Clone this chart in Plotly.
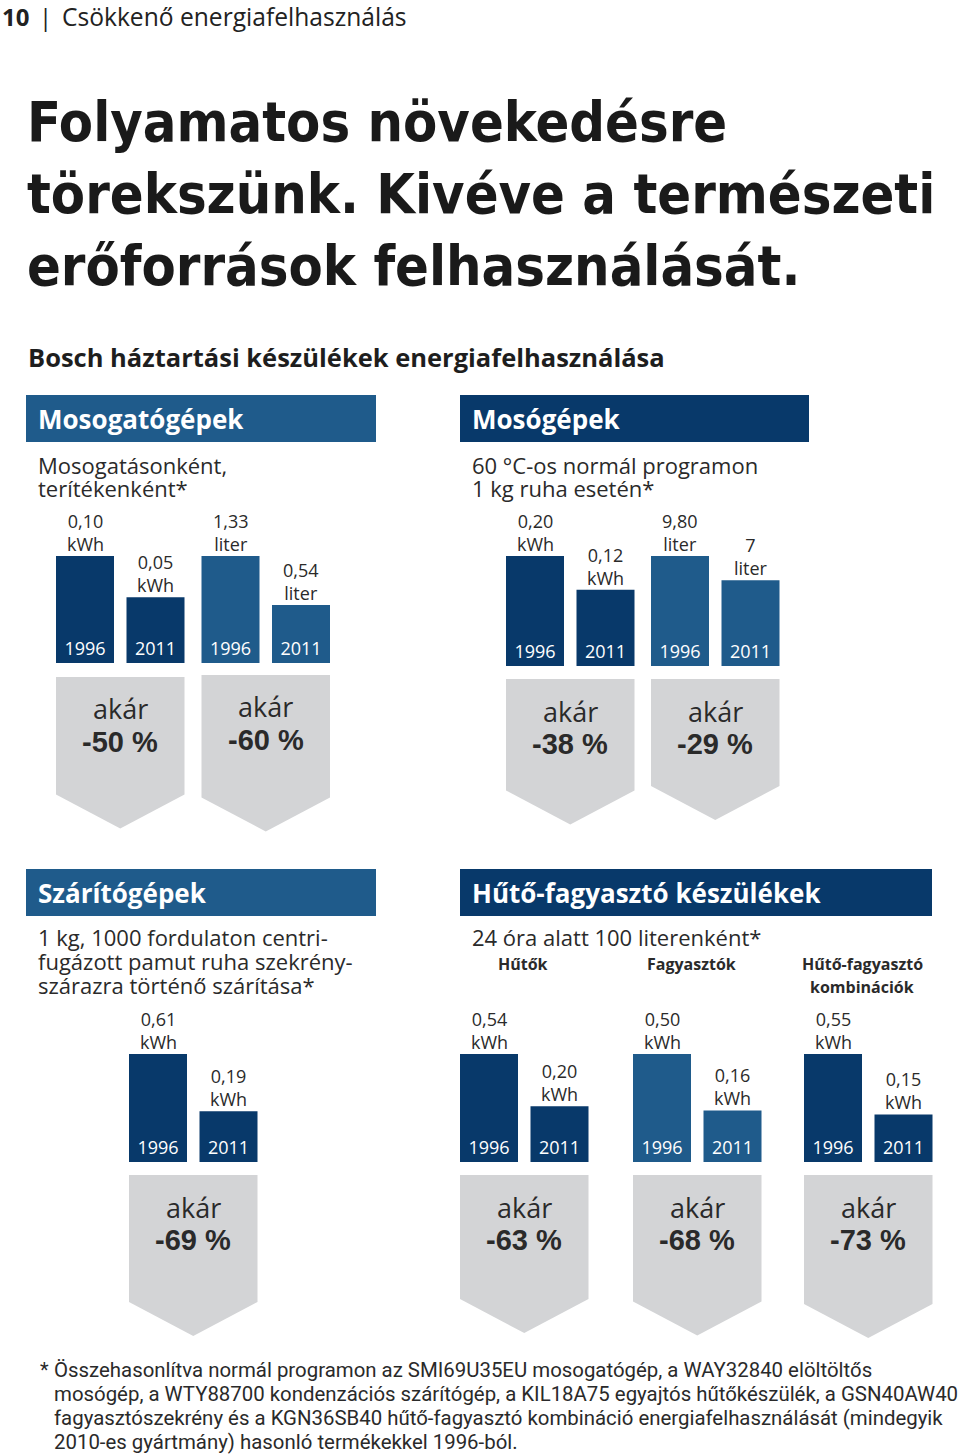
import plotly.graph_objects as go

W, H = 960, 1454


def fx(x):
    return x / W


def fy(y):
    return 1 - y / H


# ---------------- data ----------------
YEARS = ["1996", "2011"]
mosogato_kwh = [0.10, 0.05]
mosogato_liter = [1.33, 0.54]
moso_kwh = [0.20, 0.12]
moso_liter = [9.80, 7]
szarito_kwh = [0.61, 0.19]
huto_kwh = [0.54, 0.20]
fagyaszto_kwh = [0.50, 0.16]
kombi_kwh = [0.55, 0.15]
reductions = [50, 60, 38, 29, 69, 63, 68, 73]

DARK = "#08396a"
MID = "#1f5b8b"
GRAY = "#d3d4d6"
TXT = "#2a2a2a"
BODY = "Open Sans, Noto Sans, sans-serif"
COND = "Roboto, sans-serif"

# layout of each bar pair: values, unit, colour, centre of first bar, top px, bottom px
pairs = [
    (mosogato_kwh, "kWh", DARK, 85, 556, 663),
    (mosogato_liter, "liter", MID, 230.5, 556, 663),
    (moso_kwh, "kWh", DARK, 535, 556, 666),
    (moso_liter, "liter", MID, 680, 556, 666),
    (szarito_kwh, "kWh", DARK, 158, 1054, 1162),
    (huto_kwh, "kWh", DARK, 489, 1054, 1162),
    (fagyaszto_kwh, "kWh", MID, 662, 1054, 1162),
    (kombi_kwh, "kWh", DARK, 833, 1054, 1162),
]
arrow_tops = [677, 675, 679, 679, 1175, 1175, 1175, 1175]

SLOT = 70.5
BARW = 58
STRIP = 0.3  # room under zero for the year label


def fmt(v):
    if float(v).is_integer() and v >= 1:
        return str(int(v))
    return f"{v:.2f}".replace(".", ",")


fig = go.Figure()
annotations = []
shapes = []


def text(x, y, s, size, color=TXT, family=BODY, weight=None, xanchor="left", yanchor="middle", align="left"):
    font = dict(size=size, color=color, family=family)
    if weight:
        font["weight"] = weight
    if xanchor == "left":
        x = x - 2
    annotations.append(dict(x=fx(x), y=fy(y), xref="paper", yref="paper", text=s, showarrow=False,
                            xanchor=xanchor, yanchor=yanchor, align=align, font=font))


for i, (vals, unit, col, c1, top, bot) in enumerate(pairs, start=1):
    xa = "x" if i == 1 else f"x{i}"
    ya = "y" if i == 1 else f"y{i}"
    lo = -STRIP * vals[0]
    fig.add_trace(go.Bar(
        x=YEARS, y=[v - lo for v in vals], base=lo, xaxis=xa, yaxis=ya,
        marker=dict(color=col, line=dict(width=0)),
        text=YEARS, textposition="inside", insidetextanchor="start",
        textfont=dict(color="white", size=18, family=BODY), constraintext="none",
        hoverinfo="skip", showlegend=False, cliponaxis=False,
    ))
    left = c1 - SLOT / 2
    right = c1 + SLOT * 1.5
    axkey = "xaxis" if i == 1 else f"xaxis{i}"
    aykey = "yaxis" if i == 1 else f"yaxis{i}"
    fig.update_layout({
        axkey: dict(domain=[fx(left), fx(right)], anchor=ya, type="category", range=[-0.5, 1.5],
                    visible=False, fixedrange=True),
        aykey: dict(domain=[fy(bot), fy(top)], anchor=xa, range=[lo, vals[0]], visible=False, fixedrange=True),
    })
    for k, v in enumerate(vals):
        annotations.append(dict(x=k, y=v, xref=xa, yref=ya, text=f"{fmt(v)}<br>{unit}", showarrow=False,
                                xanchor="center", yanchor="bottom", yshift=-2, align="center",
                                font=dict(size=18, color=TXT, family=BODY)))
    # reduction arrow under the pair
    pct = reductions[i - 1]
    at = arrow_tops[i - 1]
    al, ar = c1 - BARW / 2, c1 + SLOT + BARW / 2
    length = 126.5 + 0.5 * pct
    tip = at + length
    sh = tip - 34
    path = (f"M {fx(al)} {fy(at)} L {fx(ar)} {fy(at)} L {fx(ar)} {fy(sh)} "
            f"L {fx((al + ar) / 2)} {fy(tip)} L {fx(al)} {fy(sh)} Z")
    shapes.append(dict(type="path", xref="paper", yref="paper", path=path, fillcolor=GRAY,
                       line=dict(width=0), layer="below"))
    text((al + ar) / 2, at + 32, "akár", 27, xanchor="center")
    text((al + ar) / 2, at + 65, f"-{pct} %", 29, family="Liberation Sans, Arial, sans-serif",
         weight="bold", xanchor="center")

# ---------------- section headers ----------------
headers = [
    ("Mosogatógépek", 26, 376, 395, 442, MID),
    ("Mosógépek", 460, 809, 395, 442, DARK),
    ("Szárítógépek", 26, 376, 869, 916, MID),
    ("Hűtő-fagyasztó készülékek", 460, 932, 869, 916, DARK),
]
for label, x0, x1, y0, y1, col in headers:
    shapes.append(dict(type="rect", xref="paper", yref="paper", x0=fx(x0), x1=fx(x1), y0=fy(y1), y1=fy(y0),
                       fillcolor=col, line=dict(width=0), layer="below"))
    text(x0 + 12, (y0 + y1) / 2, label, 26, color="white", weight="bold")

# ---------------- texts ----------------
text(2, 17, "10", 24, color="#222", weight="bold")
text(45, 17, "|", 24, color="#222", xanchor="center")
text(62, 17, "Csökkenő energiafelhasználás", 24.6, color="#222")
title_lines = ["Folyamatos növekedésre", "törekszünk. Kivéve a természeti", "erőforrások felhasználását."]
for k, t in enumerate(title_lines):
    text(27, 122 + 71.5 * k, t, 55.5, color="#1a1a1a", family="Liberation Sans Narrow, DejaVu Sans Condensed, Roboto",
         weight=900)
text(28, 357, "Bosch háztartási készülékek energiafelhasználása", 25.5, color="#1e1e1e", family=BODY, weight="bold")

text(38, 465, "Mosogatásonként,", 22)
text(38, 488, "terítékenként*", 22)
text(472, 465, "60 °C-os normál programon", 22)
text(472, 488, "1 kg ruha esetén*", 22)
text(38, 937, "1 kg, 1000 fordulaton centri-", 22)
text(38, 961, "fugázott pamut ruha szekrény-", 22)
text(38, 985, "szárazra történő szárítása*", 22)
text(472, 937, "24 óra alatt 100 literenként*", 22)
text(523, 964, "Hűtők", 16, weight="bold", xanchor="center")
text(691, 964, "Fagyasztók", 16, weight="bold", xanchor="center")
text(862, 964, "Hűtő-fagyasztó", 16, weight="bold", xanchor="center")
text(862, 987, "kombinációk", 16, weight="bold", xanchor="center")

foot = [
    "Összehasonlítva normál programon az SMI69U35EU mosogatógép, a WAY32840 elöltöltős",
    "mosógép, a WTY88700 kondenzációs szárítógép, a KIL18A75 egyajtós hűtőkészülék, a GSN40AW40",
    "fagyasztószekrény és a KGN36SB40 hűtő-fagyasztó kombináció energiafelhasználását (mindegyik",
    "2010-es gyártmány) hasonló termékekkel 1996-ból.",
]
text(40, 1370, "*", 20, family=COND)
for k, t in enumerate(foot):
    text(54, 1370 + 24 * k, t, 20.4, family=COND)

fig.update_layout(
    width=W, height=H, margin=dict(l=0, r=0, t=0, b=0),
    paper_bgcolor="white", plot_bgcolor="rgba(0,0,0,0)",
    bargap=1 - BARW / SLOT, showlegend=False,
    annotations=annotations, shapes=shapes,
)
fig.write_html("out.html", config={"displayModeBar": False},
               post_script="document.body.style.margin='0';document.documentElement.style.margin='0';")
